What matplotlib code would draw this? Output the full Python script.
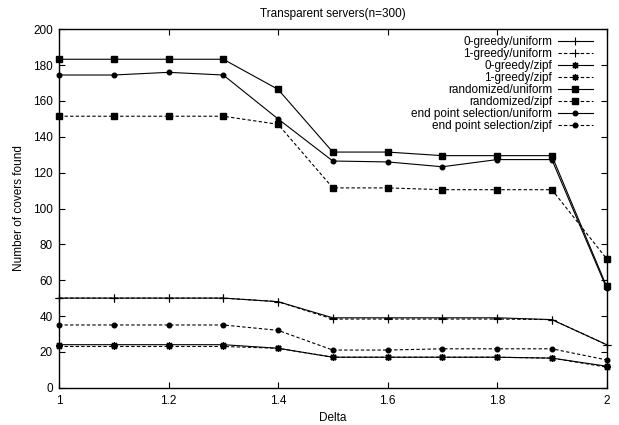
import matplotlib
matplotlib.use("Agg")
import matplotlib.pyplot as plt

plt.rcParams['font.family'] = ['Liberation Sans', 'DejaVu Sans']

delta = [1.0, 1.1, 1.2, 1.3, 1.4, 1.5, 1.6, 1.7, 1.8, 1.9, 2.0]

greedy0_uniform = [50, 50, 50, 50, 48, 39, 39, 39, 39, 38, 24]
greedy1_uniform = [50, 50, 50, 50, 48, 38.3, 38.3, 38.3, 38.3, 38, 24]
greedy0_zipf = [24, 24, 24, 24, 22, 17, 17, 17, 17, 16.5, 12]
greedy1_zipf = [23, 23, 23, 23, 22, 17, 17, 17, 17, 16.5, 11.5]
random_uniform = [183.3, 183.3, 183.3, 183.3, 166.5, 131.5, 131.5, 129.5, 129.5, 129.5, 56.5]
random_zipf = [151.5, 151.5, 151.5, 151.5, 147, 111.5, 111.5, 110.5, 110.5, 110.5, 72]
endpoint_uniform = [174.5, 174.5, 176, 174.5, 150, 126.5, 126, 123.3, 127.3, 127.3, 55.5]
endpoint_zipf = [35, 35, 35, 35, 32, 21, 21, 21.7, 21.7, 21.7, 15.5]

labels = ["0-greedy/uniform", "1-greedy/uniform", "0-greedy/zipf", "1-greedy/zipf",
          "randomized/uniform", "randomized/zipf",
          "end point selection/uniform", "end point selection/zipf"]
series = [greedy0_uniform, greedy1_uniform, greedy0_zipf, greedy1_zipf,
          random_uniform, random_zipf, endpoint_uniform, endpoint_zipf]

xticks = [1, 1.2, 1.4, 1.6, 1.8, 2]
xticklabels = ["1", "1.2", "1.4", "1.6", "1.8", "2"]
yticks = list(range(0, 201, 20))

FS = 8.5

fig = plt.figure(figsize=(6.19, 4.25), dpi=100)
ax = fig.add_axes([0.0953, 0.0878, 0.8847, 0.8432])

ast = (8, 2, 0)
dash = (0, (3, 2))
styles = [
    dict(ls='-', marker='+', ms=5.5, mew=0.8),
    dict(ls=dash, marker='+', ms=5.5, mew=0.8),
    dict(ls='-', marker=ast, ms=5, mew=0.9),
    dict(ls=dash, marker=ast, ms=5, mew=0.9),
    dict(ls='-', marker='s', ms=4.3),
    dict(ls=dash, marker='s', ms=4.3),
    dict(ls='-', marker='o', ms=3.3),
    dict(ls=dash, marker='o', ms=3.3),
]
for vals, lab, st in zip(series, labels, styles):
    ax.plot(delta, vals, color='black', lw=0.8, label=lab, clip_on=False, **st)

ax.set_xlim(1, 2)
ax.set_ylim(0, 200)
ax.set_xticks(xticks)
ax.set_xticklabels(xticklabels)
ax.set_yticks(yticks)
ax.tick_params(direction='in', length=4, width=0.8, labelsize=FS,
               top=True, right=True, pad=4.5)
ax.tick_params(axis='x', pad=5)
for sp in ax.spines.values():
    sp.set_linewidth(1.0)

ax.set_title("Transparent servers(n=300)", fontsize=FS, pad=9)
ax.set_xlabel("Delta", fontsize=FS, labelpad=4)
ax.set_ylabel("Number of covers found", fontsize=FS, labelpad=6)

ax.legend(loc='upper right', frameon=False, markerfirst=False, fontsize=FS,
          handlelength=3.0, handletextpad=0.45, labelspacing=0.0,
          borderaxespad=0.0, borderpad=0.0, bbox_to_anchor=(0.975, 0.982))

fig.savefig("out.png", dpi=100)
